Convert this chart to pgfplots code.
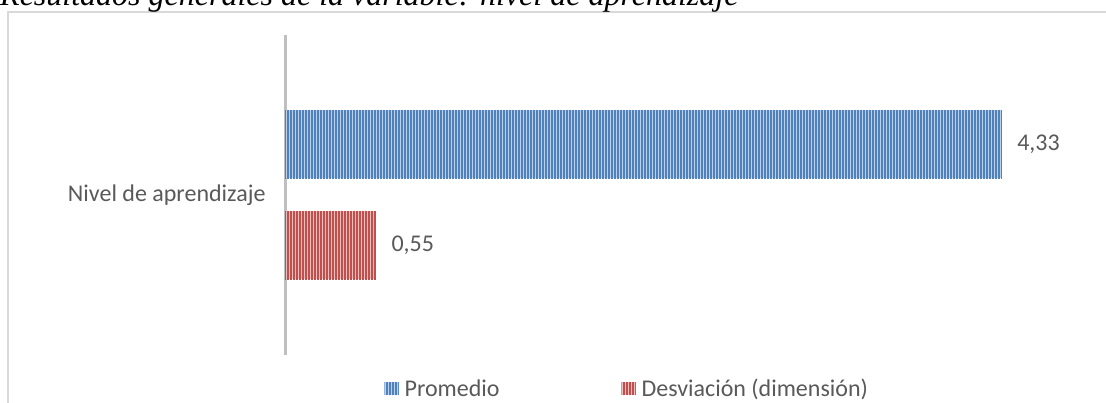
\documentclass[border=0pt]{standalone}
\usepackage{fontspec}
\setmainfont{Liberation Serif}
\newfontfamily\calibri{Carlito}
\usepackage{pgfplots}
\pgfplotsset{compat=1.18}
\usetikzlibrary{patterns.meta}

\definecolor{txtgray}{RGB}{89,89,89}
\definecolor{axgray}{RGB}{191,191,191}
\definecolor{framegray}{RGB}{217,217,217}
\definecolor{blueline}{RGB}{79,129,189}
\definecolor{bluefill}{RGB}{190,208,232}
\definecolor{redline}{RGB}{192,80,77}
\definecolor{redfill}{RGB}{236,190,189}

\tikzset{
  bluebar/.style={fill=bluefill, draw=none,
    postaction={pattern={Lines[angle=90,distance=3pt,line width=1.7pt]}, pattern color=blueline}},
  redbar/.style={fill=redfill, draw=none,
    postaction={pattern={Lines[angle=90,distance=3pt,line width=1.7pt]}, pattern color=redline}},
}

\begin{document}
\begin{tikzpicture}[x=1pt,y=1pt]
\clip (0,0) rectangle (1106,403);
% chart frame
\draw[framegray, line width=1.5pt] (8,-5) rectangle (1115,391);
% title (cut at the top, as in the source)
\node[anchor=base west, inner sep=0pt, font=\fontsize{32}{36}\selectfont\itshape] at (0,397)
  {Resultados generales de la variable: nivel de aprendizaje};
% vertical category axis line
\draw[axgray, line width=3pt] (285,48) -- (285,368);

\begin{axis}[
    at={(285pt,48pt)}, anchor=south west,
    scale only axis,
    width=778pt, height=320pt,
    clip=false,
    xbar,
    xmin=0, xmax=4.7,
    ymin=-1, ymax=1,
    axis line style={draw=none},
    ytick={0},
    yticklabels={Nivel de aprendizaje},
    xtick=\empty,
    major tick length=0pt,
    yticklabel style={font=\calibri\fontsize{24}{28}\selectfont, text=txtgray, xshift=-16pt},
    bar width=68pt,
    nodes near coords,
    nodes near coords align={horizontal},
    every node near coord/.append style={font=\calibri\fontsize{24}{28}\selectfont, text=txtgray, xshift=12pt},
    /pgf/number format/.cd, use comma, fixed, fixed zerofill, precision=2, assume math mode=true,
    /pgfplots/.cd,
    legend style={at={(rel axis cs:0.44,-0.106)}, anchor=center, draw=none, fill=none,
      font=\calibri\fontsize{24}{28}\selectfont, text=txtgray,
      legend columns=2,
      /tikz/every odd column/.append style={column sep=4pt},
      /tikz/every even column/.append style={column sep=120pt}},
    legend cell align=left,
  ]
  \addplot[bluebar, bar shift=50.5pt,
    legend image code/.code={\path[bluebar] (0pt,-6.5pt) rectangle (14pt,6.5pt);}]
    coordinates {(4.33,0)};
  \addplot[redbar, bar shift=-50.5pt,
    legend image code/.code={\path[redbar] (0pt,-6.5pt) rectangle (14pt,6.5pt);}]
    coordinates {(0.55,0)};
  \legend{Promedio, Desviación (dimensión)}
\end{axis}
\end{tikzpicture}
\end{document}
